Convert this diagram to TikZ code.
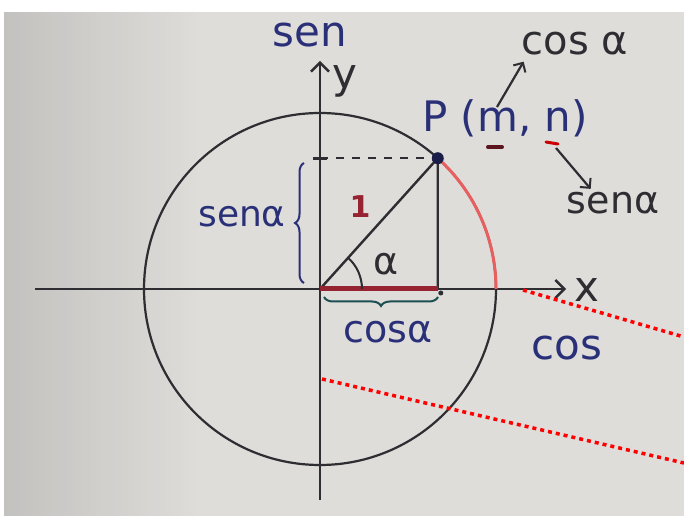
\documentclass[tikz,border=0pt]{standalone}
\usepackage{fontspec}
\setmainfont{DejaVu Sans}
\usepackage{xcolor}
\usetikzlibrary{arrows.meta,positioning,calc,decorations.pathreplacing,fadings}

\definecolor{paper}{RGB}{222,221,218}
\definecolor{ink}{RGB}{45,45,50}
\definecolor{navy}{RGB}{42,48,120}
\definecolor{redarc}{RGB}{232,95,95}
\definecolor{darkred}{RGB}{150,35,50}

\tikzset{
  axis/.style={draw=ink,line width=2.6pt,-{Straight Barb[length=9pt,width=18pt,line width=2.4pt]}},
  pointer/.style={draw=ink,line width=2.2pt,-{Straight Barb[length=7pt,width=14pt,line width=2pt]}},
  bluetxt/.style={text=navy,font=\fontsize{42}{42}\selectfont,inner sep=0pt},
  blacktxt/.style={text=ink,font=\fontsize{42}{42}\selectfont,inner sep=0pt},
  bracebox/.style={decorate,decoration={brace,amplitude=9pt},line width=2pt},
  redtrace/.style={draw=red,line width=3.5pt,dash pattern=on 4pt off 4pt},
}

\begin{document}
\begin{tikzpicture}[x=1pt,y=1pt]
\useasboundingbox (0,0) rectangle (684,516);
% photo background
\fill[white] (0,0) rectangle (684,516);
\fill[paper] (4,0) rectangle (684,504);
\fill[black,opacity=0.12,path fading=east] (4,0) rectangle (200,504);

% circle and axes
\coordinate (O) at (320,227);
\coordinate (P) at ($(O)+(48:176)$);
\coordinate (F) at (P |- O);
\coordinate (T) at (O |- P);
\coordinate (xstart) at (35,227);
\coordinate (xend) at (566,227);
\coordinate (ystart) at (320,16);
\coordinate (yend) at (320,455);
\draw[ink,line width=2.2pt] (O) circle (176);
\draw[axis] (xstart) -- (xend);
\draw[axis] (ystart) -- (yend);
\node[blacktxt] (xlab) at (587,226) {x};
\node[blacktxt] (ylab) at (345,435) {y};

% triangle inside the circle
\draw[redarc,line width=3pt] (P) arc[start angle=48,end angle=0,radius=176];
\draw[ink,line width=2pt,dash pattern=on 8pt off 8pt] (T) -- (P);
\draw[ink,line width=2.4pt] (O) -- (P) -- (F);
\draw[darkred,line width=5pt] (O) -- (F);
\draw[ink,line width=2pt] ($(O)+(42,0)$) arc[start angle=0,end angle=48,radius=42];
\fill[navy!60!black] (P) circle (6);
\fill[ink] ($(F)+(3,-4)$) circle (2.5);
\draw[ink,line width=3pt] ($(T)+(-7,0)$) -- ($(T)+(7,0)$);

% braces
\draw[bracebox,navy] (304,233) -- (304,353);
\draw[bracebox,teal!40!ink] (438,219) -- (324,219);

% labels
\node[bluetxt] (sentop) at (310,481) {sen};
\node[bluetxt,font=\fontsize{36}{36}\selectfont] (senleft) at (242,299) {senα};
\node[bluetxt,font=\fontsize{38}{38}\selectfont] (cosbot) at (388,184) {cosα};
\node[bluetxt] (cosright) at (567,168) {cos};
\node[bluetxt] (pmn) at (505,398) {P (m, n)};
\node[text=darkred,font=\fontsize{30}{30}\selectfont\bfseries,inner sep=0pt] (one) at (360,309) {1};
\node[blacktxt,font=\fontsize{38}{38}\selectfont] (alab) at (386,252) {α};
\node[blacktxt,font=\fontsize{40}{40}\selectfont] (cosa) at (575,472) {cos α};
\node[blacktxt,font=\fontsize{38}{38}\selectfont] (sena) at (613,313) {senα};

% m and n marks
\draw[darkred!60!black,line width=4pt,line cap=round] (488,369) -- (502,369);
\draw[red!80!black,line width=3pt,line cap=round] (546,374) -- (558,372);
\coordinate (mtail) at (497,409);
\coordinate (ntail) at (556,368);
\draw[pointer] (mtail) -- ([xshift=2pt,yshift=-6pt]cosa.south west);
\draw[pointer] (ntail) -- ([xshift=24pt,yshift=3pt]sena.north west);

% red dotted guides
\draw[redtrace] (523,226) -- (684,179);
\draw[redtrace] (322,137) -- (684,53);
\end{tikzpicture}
\end{document}
